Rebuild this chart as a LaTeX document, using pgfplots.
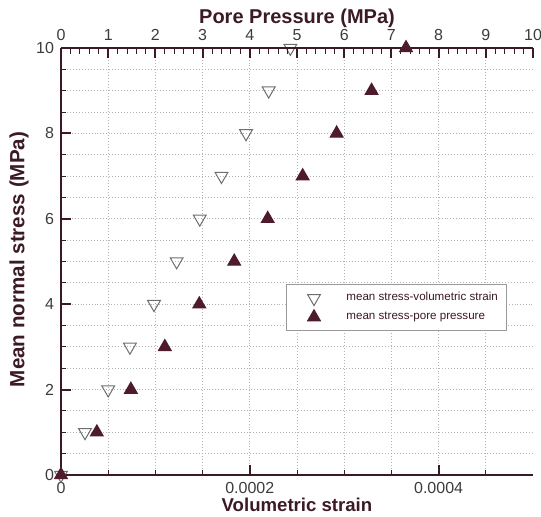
\documentclass[border=0pt]{standalone}
\usepackage{pgfplots}
\pgfplotsset{compat=1.18}
\usepackage{fontspec}
\setmainfont{Liberation Sans}

\definecolor{axmaroon}{HTML}{3B1A25}
\definecolor{fillmaroon}{HTML}{4E1B2A}
\definecolor{opengrey}{HTML}{6E6E6E}
\definecolor{gridgrey}{HTML}{B4B4B4}
\definecolor{labelgrey}{HTML}{3C3C3C}

\pgfplotsset{
  base/.style={
    scale only axis, width=236pt, height=213.5pt,
    ymin=0, ymax=10, clip=false,
    axis line style={axmaroon, line width=1pt, -},
    tick align=inside,
    major tick length=5pt, minor tick length=2.5pt,
    major tick style={axmaroon, line width=1pt},
    minor tick style={axmaroon, line width=0.5pt},
    tick label style={font=\fontsize{8}{9}\selectfont, text=labelgrey},
    /pgf/number format/assume math mode=true,
    label style={font=\bfseries\fontsize{9.3}{11}\selectfont, text=axmaroon},
  },
  % marker only, with some room on its left
  padimg/.style={legend image code/.code={%
    \draw[mark repeat=2,mark phase=2,##1] plot coordinates {(0cm,0cm) (0.3cm,0cm) (0.6cm,0cm)};
    \path (-3pt,0pt);}},
}

% volumetric strain vs mean stress (bottom axis)
\pgfplotstableread{
x        y
0        0
2.54e-5  1
5.0e-5   2
7.3e-5   3
9.85e-5  4
1.225e-4 5
1.47e-4  6
1.70e-4  7
1.96e-4  8
2.20e-4  9
2.43e-4  10
}\strain

% pore pressure vs mean stress (top axis)
\pgfplotstableread{
x     y
0     0
0.76  1
1.48  2
2.20  3
2.93  4
3.67  5
4.38  6
5.12  7
5.84  8
6.58  9
7.31  10
}\pore

\begin{document}
\begin{tikzpicture}
\begin{axis}[base, name=main,
  xmin=0, xmax=0.0005,
  axis x line*=bottom, axis y line*=left,
  xtick={0,0.0002,0.0004},
  minor xtick={0.00005,0.0001,0.00015,0.00025,0.0003,0.00035,0.00045},
  scaled x ticks=false,
  xticklabel style={/pgf/number format/fixed, /pgf/number format/precision=4},
  ytick={0,2,4,6,8,10},
  minor ytick={0.5,1,1.5,2.5,3,3.5,4.5,5,5.5,6.5,7,7.5,8.5,9,9.5},
  xmajorgrids, xminorgrids, ymajorgrids, yminorgrids,
  grid style={densely dotted, gridgrey, line width=0.5pt},
  minor grid style={densely dotted, gridgrey, line width=0.5pt},
  xlabel={Volumetric strain}, ylabel={Mean normal stress (MPa)},
  xlabel style={at={([yshift=-15pt]axis description cs:0.5,0)}, anchor=center},
  ylabel style={at={([xshift=-21pt,yshift=1pt]axis description cs:0,0.5)}, anchor=center,
    font=\bfseries\fontsize{10.3}{12}\selectfont},
]
\addplot[only marks, mark=triangle, mark size=3.7pt,
  mark options={rotate=180, draw=opengrey, fill=white, line width=0.5pt}]
  table[x=x, y=y] {\strain};
\end{axis}
\begin{axis}[base,
  xmin=0, xmax=10,
  axis x line*=top, axis y line=none, ytick=\empty,
  xtick={0,1,...,10}, minor x tick num=4, minor tick length=3pt,
  xlabel={Pore Pressure (MPa)},
  xlabel style={at={([yshift=15pt]axis description cs:0.5,1)}, anchor=center,
    font=\bfseries\fontsize{10}{12}\selectfont},
  legend cell align=left,
  legend style={at={(axis description cs:0.477,0.447)}, anchor=north west,
    draw=gray!80, line width=0.4pt, fill=white,
    font=\fontsize{5.8}{7}\selectfont, text=axmaroon,
    inner xsep=2pt, inner ysep=2pt, row sep=0pt,
    /tikz/every odd column/.append style={column sep=11pt}},
]
\addlegendimage{only marks, mark=triangle, mark size=3.7pt,
  mark options={rotate=180, draw=opengrey, fill=white, line width=0.5pt}, padimg}
\addlegendentry{mean stress-volumetric strain}
\addplot[only marks, mark=triangle*, mark size=3.7pt,
  mark options={draw=fillmaroon, fill=fillmaroon, line width=0.5pt}, padimg]
  table[x=x, y=y] {\pore};
\addlegendentry{mean stress-pore pressure}
\end{axis}
\pgfresetboundingbox
\path[use as bounding box] ([xshift=-30.5pt,yshift=-21pt]main.south west)
  rectangle ([xshift=4pt,yshift=24pt]main.north east);
\end{tikzpicture}
\end{document}
